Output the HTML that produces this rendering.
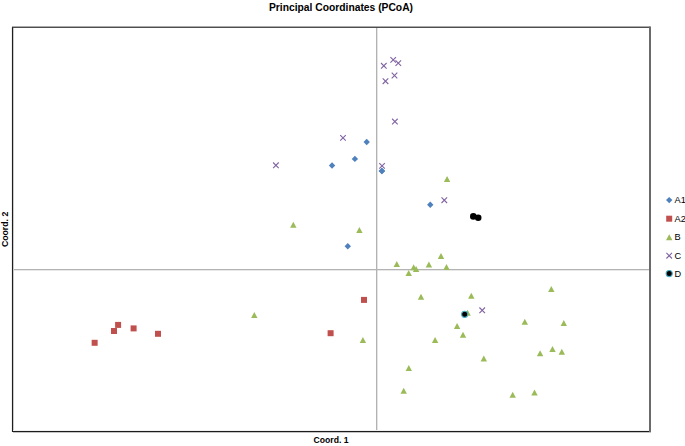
<!DOCTYPE html>
<html><head><meta charset="utf-8"><title>PCoA</title>
<style>
html,body{margin:0;padding:0;background:#fff;width:685px;height:446px;overflow:hidden}
svg{display:block}
text{font-family:"Liberation Sans",sans-serif;fill:#000}
.tt{font-weight:bold;font-size:10.4px}
.ax{font-weight:bold;font-size:8.8px}
.lg{font-size:9.2px}
</style></head>
<body>
<svg width="685" height="446" viewBox="0 0 685 446">
<rect x="0" y="0" width="685" height="446" fill="#fff"/>
<rect x="376" y="27.5" width="1.35" height="403.5" fill="#b2b2b2"/>
<rect x="12.5" y="269" width="637" height="1.3" fill="#b3b3b3"/>
<rect x="11" y="27" width="1" height="405" fill="#eeeeee"/>
<rect x="13" y="28" width="1" height="403" fill="#cacaca"/>
<rect x="13" y="432" width="638" height="1" fill="#c4c4c4"/>
<rect x="13" y="430" width="636" height="1" fill="#f0f0f0"/>
<rect x="12" y="27" width="1" height="405" fill="#1e1e1e"/>
<rect x="12" y="431" width="638.5" height="1" fill="#1c1c1c"/>
<rect x="12" y="26.6" width="638.5" height="1.25" fill="#303030"/>
<rect x="649" y="26.6" width="2" height="405.4" fill="#6a6a6a"/>
<path d="M366.70 138.80L369.90 142.00L366.70 145.20L363.50 142.00Z" fill="#4F81BD"/>
<path d="M354.90 155.70L358.10 158.90L354.90 162.10L351.70 158.90Z" fill="#4F81BD"/>
<path d="M332.06 162.30L335.26 165.50L332.06 168.70L328.86 165.50Z" fill="#4F81BD"/>
<path d="M381.90 167.80L385.10 171.00L381.90 174.20L378.70 171.00Z" fill="#4F81BD"/>
<path d="M430.26 201.55L433.46 204.75L430.26 207.95L427.06 204.75Z" fill="#4F81BD"/>
<path d="M347.77 243.00L350.97 246.20L347.77 249.40L344.57 246.20Z" fill="#4F81BD"/>
<rect x="361.00" y="296.90" width="6.00" height="6.00" fill="#C0504D"/>
<rect x="327.60" y="330.20" width="6.00" height="6.00" fill="#C0504D"/>
<rect x="155.00" y="330.80" width="6.00" height="6.00" fill="#C0504D"/>
<rect x="130.60" y="325.40" width="6.00" height="6.00" fill="#C0504D"/>
<rect x="115.10" y="321.90" width="6.00" height="6.00" fill="#C0504D"/>
<rect x="111.00" y="328.00" width="6.00" height="6.00" fill="#C0504D"/>
<rect x="91.64" y="339.80" width="6.00" height="6.00" fill="#C0504D"/>
<path d="M447.08 175.97L450.28 181.97L443.88 181.97Z" fill="#9BBB59"/>
<path d="M293.31 221.82L296.51 227.82L290.11 227.82Z" fill="#9BBB59"/>
<path d="M359.40 226.96L362.60 232.96L356.20 232.96Z" fill="#9BBB59"/>
<path d="M441.00 252.90L444.20 258.90L437.80 258.90Z" fill="#9BBB59"/>
<path d="M396.76 261.10L399.96 267.10L393.56 267.10Z" fill="#9BBB59"/>
<path d="M428.90 261.60L432.10 267.60L425.70 267.60Z" fill="#9BBB59"/>
<path d="M446.50 263.90L449.70 269.90L443.30 269.90Z" fill="#9BBB59"/>
<path d="M413.66 264.30L416.86 270.30L410.46 270.30Z" fill="#9BBB59"/>
<path d="M416.10 266.10L419.30 272.10L412.90 272.10Z" fill="#9BBB59"/>
<path d="M408.70 270.10L411.90 276.10L405.50 276.10Z" fill="#9BBB59"/>
<path d="M421.00 293.75L424.20 299.75L417.80 299.75Z" fill="#9BBB59"/>
<path d="M471.30 292.70L474.50 298.70L468.10 298.70Z" fill="#9BBB59"/>
<path d="M551.30 285.90L554.50 291.90L548.10 291.90Z" fill="#9BBB59"/>
<path d="M254.30 311.90L257.50 317.90L251.10 317.90Z" fill="#9BBB59"/>
<path d="M467.60 309.80L470.80 315.80L464.40 315.80Z" fill="#9BBB59"/>
<path d="M524.80 318.80L528.00 324.80L521.60 324.80Z" fill="#9BBB59"/>
<path d="M563.80 320.10L567.00 326.10L560.60 326.10Z" fill="#9BBB59"/>
<path d="M457.10 323.00L460.30 329.00L453.90 329.00Z" fill="#9BBB59"/>
<path d="M463.00 331.80L466.20 337.80L459.80 337.80Z" fill="#9BBB59"/>
<path d="M435.10 336.90L438.30 342.90L431.90 342.90Z" fill="#9BBB59"/>
<path d="M362.90 336.90L366.10 342.90L359.70 342.90Z" fill="#9BBB59"/>
<path d="M540.07 350.20L543.27 356.20L536.87 356.20Z" fill="#9BBB59"/>
<path d="M552.50 345.90L555.70 351.90L549.30 351.90Z" fill="#9BBB59"/>
<path d="M561.80 348.70L565.00 354.70L558.60 354.70Z" fill="#9BBB59"/>
<path d="M483.80 355.50L487.00 361.50L480.60 361.50Z" fill="#9BBB59"/>
<path d="M408.80 364.90L412.00 370.90L405.60 370.90Z" fill="#9BBB59"/>
<path d="M403.70 387.75L406.90 393.75L400.50 393.75Z" fill="#9BBB59"/>
<path d="M512.70 391.80L515.90 397.80L509.50 397.80Z" fill="#9BBB59"/>
<path d="M534.50 389.40L537.70 395.40L531.30 395.40Z" fill="#9BBB59"/>
<path d="M381.00 63.00L386.60 68.60M386.60 63.00L381.00 68.60" stroke="#8064A2" stroke-width="1.1" fill="none"/>
<path d="M390.40 57.05L396.00 62.65M396.00 57.05L390.40 62.65" stroke="#8064A2" stroke-width="1.1" fill="none"/>
<path d="M395.50 60.30L401.10 65.90M401.10 60.30L395.50 65.90" stroke="#8064A2" stroke-width="1.1" fill="none"/>
<path d="M391.70 72.70L397.30 78.30M397.30 72.70L391.70 78.30" stroke="#8064A2" stroke-width="1.1" fill="none"/>
<path d="M382.70 78.40L388.30 84.00M388.30 78.40L382.70 84.00" stroke="#8064A2" stroke-width="1.1" fill="none"/>
<path d="M392.10 118.75L397.70 124.35M397.70 118.75L392.10 124.35" stroke="#8064A2" stroke-width="1.1" fill="none"/>
<path d="M340.20 135.10L345.80 140.70M345.80 135.10L340.20 140.70" stroke="#8064A2" stroke-width="1.1" fill="none"/>
<path d="M273.10 162.50L278.70 168.10M278.70 162.50L273.10 168.10" stroke="#8064A2" stroke-width="1.1" fill="none"/>
<path d="M379.25 163.10L384.85 168.70M384.85 163.10L379.25 168.70" stroke="#8064A2" stroke-width="1.1" fill="none"/>
<path d="M441.50 197.40L447.10 203.00M447.10 197.40L441.50 203.00" stroke="#8064A2" stroke-width="1.1" fill="none"/>
<path d="M479.40 307.50L485.00 313.10M485.00 307.50L479.40 313.10" stroke="#8064A2" stroke-width="1.1" fill="none"/>
<path d="M381.90 167.80L385.10 171.00L381.90 174.20L378.70 171.00Z" fill="#4F81BD"/>
<circle cx="473.30" cy="216.40" r="3.3" fill="#000"/>
<circle cx="478.20" cy="217.80" r="3.3" fill="#000"/>
<circle cx="464.70" cy="314.30" r="3.05" fill="#000" stroke="#4BACC6" stroke-width="1.1"/>
<path d="M669.20 196.90L672.40 200.10L669.20 203.30L666.00 200.10Z" fill="#4F81BD"/>
<rect x="666.20" y="215.70" width="6.00" height="6.00" fill="#C0504D"/>
<path d="M669.20 234.20L672.40 240.20L666.00 240.20Z" fill="#9BBB59"/>
<path d="M666.40 252.90L672.00 258.50M672.00 252.90L666.40 258.50" stroke="#8064A2" stroke-width="1.1" fill="none"/>
<circle cx="669.20" cy="273.60" r="3.05" fill="#000" stroke="#4BACC6" stroke-width="1.1"/>
<text x="674.5" y="203.10" class="lg">A1</text>
<text x="674.5" y="221.70" class="lg">A2</text>
<text x="674.5" y="240.20" class="lg">B</text>
<text x="674.5" y="258.70" class="lg">C</text>
<text x="674.5" y="276.60" class="lg">D</text>
<text x="269" y="10.9" class="tt" textLength="144" lengthAdjust="spacingAndGlyphs">Principal Coordinates (PCoA)</text>
<text x="313.6" y="442.5" class="ax" textLength="35" lengthAdjust="spacingAndGlyphs">Coord. 1</text>
<text transform="translate(8.2 247.1) rotate(-90)" x="0" y="0" class="ax" textLength="35.4" lengthAdjust="spacingAndGlyphs">Coord. 2</text>
</svg>
</body></html>
